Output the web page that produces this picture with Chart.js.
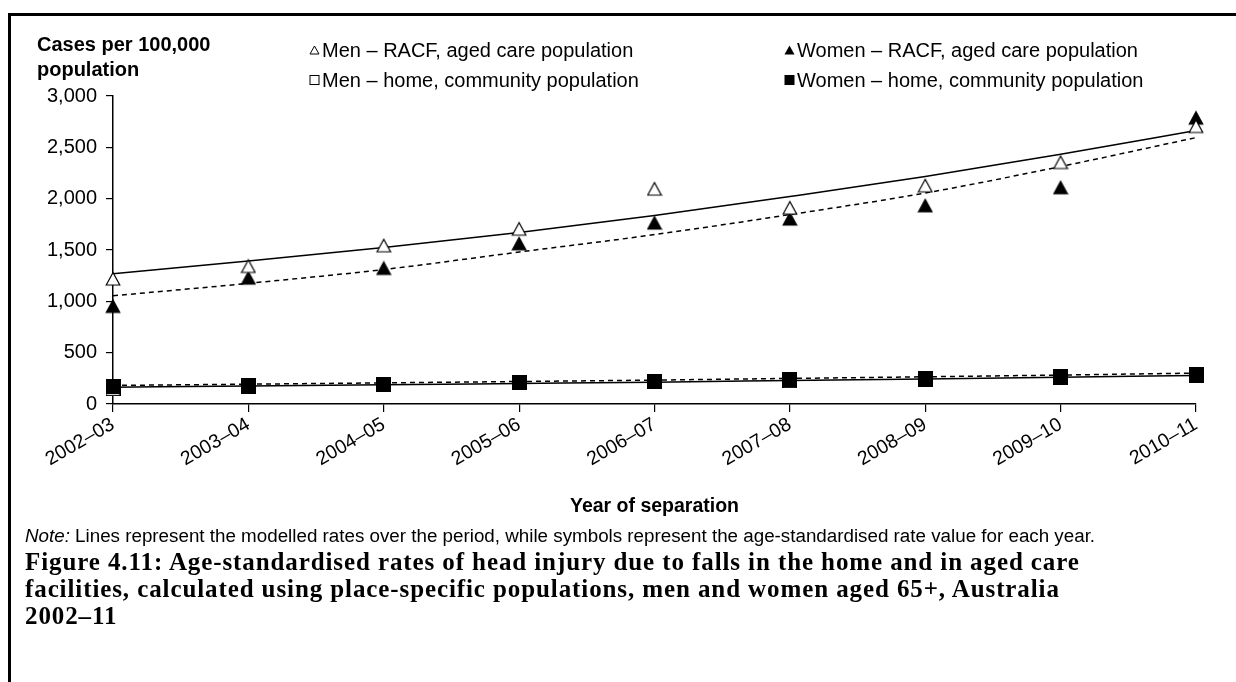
<!DOCTYPE html>
<html>
<head>
<meta charset="utf-8">
<script src="https://cdn.jsdelivr.net/npm/chart.js@4.4.1/dist/chart.umd.min.js"></script>
<style>
  html, body { margin: 0; padding: 0; background: #fff; }
  body { width: 1236px; height: 682px; position: relative; overflow: hidden; font-family: "Liberation Sans", Arial, sans-serif; color: #000; }
  #frame { position: absolute; left: 8px; top: 13px; width: 1400px; height: 800px; border-left: 3px solid #000; border-top: 3px solid #000; }
  #chart { position: absolute; left: 0; top: 0; }
  .ytitle { position: absolute; left: 37px; top: 32px; font-weight: bold; font-size: 20px; line-height: 25px; }
  .leg { position: absolute; font-size: 20px; line-height: 24px; white-space: nowrap; }
  .leg svg { position: absolute; left: -13px; top: 7px; }
  .note { position: absolute; left: 25px; top: 525px; font-size: 18.8px; line-height: 22px; white-space: nowrap; }
  .caption { position: absolute; left: 25px; top: 548px; font-family: "Liberation Serif", "Times New Roman", serif; font-weight: bold; font-size: 25px; letter-spacing: 0.9px; line-height: 27px; white-space: nowrap; }
</style>
</head>
<body>
<div id="frame"></div>
<canvas id="chart" width="1236" height="530"></canvas>
<div class="ytitle">Cases per 100,000<br>population</div>
<div class="leg" style="left:322px; top:38px;"><svg width="11" height="10"><polygon points="1,9 5.5,1 10,9" fill="#fff" stroke="#000" stroke-width="1"/></svg>Men – RACF, aged care population</div>
<div class="leg" style="left:797px; top:38px;"><svg width="11" height="10"><polygon points="0.5,9.5 5.5,0.5 10.5,9.5" fill="#000"/></svg>Women – RACF, aged care population</div>
<div class="leg" style="left:322px; top:68px;"><svg width="11" height="10"><rect x="1" y="0.5" width="9" height="9" fill="#fff" stroke="#000" stroke-width="1"/></svg>Men – home, community population</div>
<div class="leg" style="left:797px; top:68px;"><svg width="11" height="10"><rect x="0.5" y="0" width="10" height="10" fill="#000"/></svg>Women – home, community population</div>
<div class="note"><i>Note:</i> Lines represent the modelled rates over the period, while symbols represent the age-standardised rate value for each year.</div>
<div class="caption">Figure 4.11: Age-standardised rates of head injury due to falls in the home and in aged care<br>facilities, calculated using place-specific populations, men and women aged 65+, Australia<br>2002–11</div>
<script>
// ---- data ----
const years = ["2002–03","2003–04","2004–05","2005–06","2006–07","2007–08","2008–09","2009–10","2010–11"];
const yTicks = [0, 500, 1000, 1500, 2000, 2500, 3000];

const menRacf       = [1217, 1340, 1541, 1703, 2093, 1908, 2125, 2352, 2703];
const womenRacf     = [950, 1226, 1320, 1560, 1762, 1801, 1930, 2106, 2784];
const menHome       = [150, 175, 188, 205, 218, 228, 243, 262, 282];
const womenHome     = [174, 181, 194, 213, 223, 236, 249, 269, 291];

const menRacfModel   = [1268, 1392, 1525, 1671, 1836, 2021, 2216, 2433, 2664];
const womenRacfModel = [1054, 1175, 1310, 1480, 1650, 1845, 2055, 2313, 2595];
const menHomeModel   = [164, 175, 187, 200, 213, 228, 243, 260, 278];
const womenHomeModel = [181, 193, 206, 219, 233, 249, 265, 282, 301];

// ---- marker images (centred) ----
function marker(kind, fill) {
  const c = document.createElement('canvas');
  const s = kind === 'tri' ? 16 : 15;
  c.width = s; c.height = s;
  const g = c.getContext('2d');
  g.lineWidth = 1.2;
  g.strokeStyle = '#000';
  g.fillStyle = fill;
  if (kind === 'tri') {
    g.beginPath();
    g.moveTo(1.2, 14); g.lineTo(8, 1.5); g.lineTo(14.8, 14); g.closePath();
    g.fill(); g.stroke();
  } else {
    g.fillRect(0.6, 0.6, 13.8, 13.8);
    g.strokeRect(0.6, 0.6, 13.8, 13.8);
  }
  return c;
}
const triOpen = marker('tri', '#fff');
const triFull = marker('tri', '#000');
const sqOpen = marker('sq', '#fff');
const sqFull = marker('sq', '#000');

function pts(label, data, img, order) {
  return { label, data, showLine: false, pointStyle: img, pointRadius: 8, pointHoverRadius: 8,
           borderColor: '#000', backgroundColor: '#000', order };
}
function model(label, data, dashed, order) {
  return { label, data, borderColor: '#000', borderWidth: 1.5, borderDash: dashed ? [5, 4] : [],
           pointRadius: 0, pointHoverRadius: 0, fill: false, cubicInterpolationMode: 'monotone', order };
}

new Chart(document.getElementById('chart'), {
  type: 'line',
  data: {
    labels: years,
    datasets: [
      pts('Women – home, community population', womenHome, sqFull, 1),
      pts('Men – home, community population', menHome, sqOpen, 2),
      pts('Men – RACF, aged care population', menRacf, triOpen, 3),
      pts('Women – RACF, aged care population', womenRacf, triFull, 4),
      model('Men – RACF model', menRacfModel, false, 5),
      model('Women – RACF model', womenRacfModel, true, 6),
      model('Men – home model', menHomeModel, false, 7),
      model('Women – home model', womenHomeModel, true, 8)
    ]
  },
  options: {
    responsive: false,
    animation: false,
    devicePixelRatio: 1,
    layout: { padding: { top: 96, right: 40, left: 0, bottom: 0 } },
    plugins: { legend: { display: false }, tooltip: { enabled: false } },
    scales: {
      x: {
        offset: false,
        afterFit: (s) => { s.height = 126; },
        grid: { display: true, drawOnChartArea: false, drawTicks: true, tickLength: 8, color: '#000', lineWidth: 1.2 },
        border: { display: true, color: '#000', width: 1.5 },
        ticks: { color: '#000', font: { family: 'Liberation Sans', size: 19.5 }, maxRotation: 30, minRotation: 30, autoSkip: false, padding: 1 },
        title: { display: true, text: 'Year of separation', color: '#000', font: { family: 'Liberation Sans', size: 19.5, weight: 'bold' }, padding: { top: 0, bottom: 12 } }
      },
      y: {
        min: 0, max: 3000,
        afterFit: (s) => { s.width = 113; },
        afterBuildTicks: (s) => { s.ticks = yTicks.map(v => ({ value: v })); },
        grid: { display: true, drawOnChartArea: false, drawTicks: true, tickLength: 7, color: '#000', lineWidth: 1.2 },
        border: { display: true, color: '#000', width: 1.5 },
        ticks: { color: '#000', font: { family: 'Liberation Sans', size: 20 }, padding: 9,
                 callback: (v) => v.toLocaleString('en-US') }
      }
    }
  }
});
</script>
</body>
</html>
